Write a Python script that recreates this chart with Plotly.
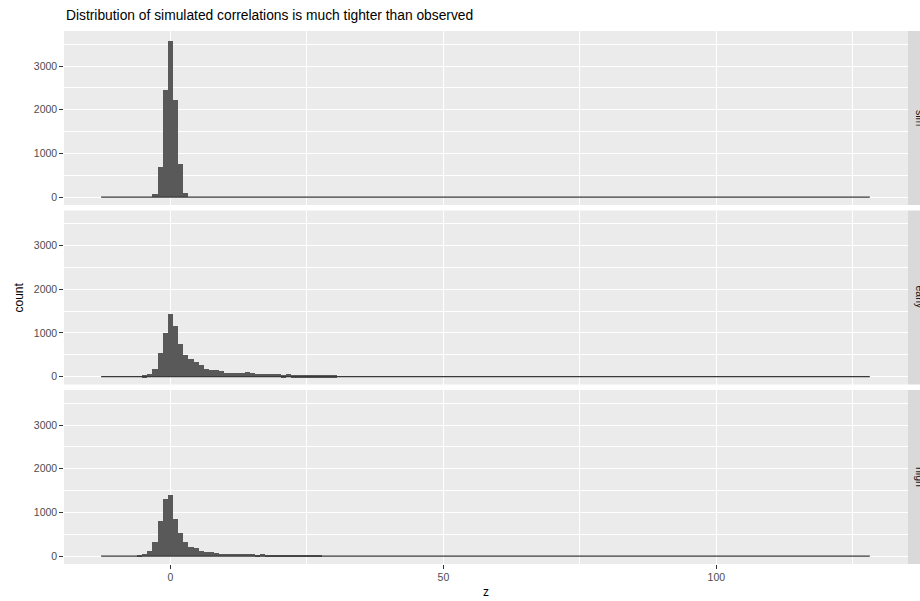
import plotly.graph_objects as go

# ---- data ----
panels = ["sim", "early", "high"]
bin_width = 0.94
bin_index = list(range(-6, 33))          # histogram bin k, centre = k * bin_width
z_min, z_max = -12.7, 128.1              # overall range of z (empty bins drawn as a flat line)

sim_counts = [0, 0, 0, 60, 686, 2448, 3570, 2220, 755, 92] + [0] * 29
early_counts = [0, 38, 69, 175, 542, 1000, 1440, 1170, 763, 496, 405, 336, 267, 176,
                153, 153, 130, 84, 84, 84, 84, 107, 84, 61, 61, 61, 61, 61, 38, 61,
                38, 38, 38, 38, 38, 38, 38, 38, 38]
high_counts = [30, 53, 122, 328, 809, 1313, 1405, 855, 534, 328, 214, 191, 122, 99, 99,
               76, 53, 53, 53, 53, 53, 53, 53, 30, 53, 30, 30, 8, 30, 30, 30, 30, 8, 8,
               8, 30, 0, 0, 0]
all_counts = [sim_counts, early_counts, high_counts]

x_ticks = [0, 50, 100]
y_ticks = [0, 1000, 2000, 3000]

# ---- layout geometry ----
W, H = 920, 601
L, R, T, B = 64, 12, 31, 37
ph = (H - T - B)
gap = 5.5
panel_h = (ph - 2 * gap) / 3
domains = []
for i in range(3):
    top = ph - i * (panel_h + gap)
    bot = top - panel_h
    domains.append([bot / ph, top / ph])

centres = [k * bin_width for k in bin_index]
BAR = "#595959"
fig = go.Figure()
for i, counts in enumerate(all_counts):
    xa = "x" if i == 0 else f"x{i+1}"
    ya = "y" if i == 0 else f"y{i+1}"
    fig.add_trace(go.Scatter(x=[z_min, z_max], y=[0, 0], mode="lines",
                             line=dict(color="#3a3a3a", width=1.1), xaxis=xa, yaxis=ya,
                             showlegend=False, hoverinfo="skip"))
    fig.add_trace(go.Bar(x=centres, y=counts, width=bin_width, marker=dict(color=BAR, line=dict(width=0)),
                         xaxis=xa, yaxis=ya, showlegend=False))

axis_common = dict(showline=False, zeroline=False, gridcolor="white", gridwidth=1.1,
                   tickcolor="#333333", tickwidth=1.07, ticklen=3.7, automargin=False,
                   tickfont=dict(family="Liberation Sans, Arial", size=10.5, color="#4D4D4D"))
xr = [-19.5, 135.1]
yr = [-181, 3801]
layout = dict(width=W, height=H, margin=dict(l=L, r=R, t=T, b=B),
              paper_bgcolor="white", plot_bgcolor="#EBEBEB", bargap=0, barmode="overlay",
              font=dict(family="Liberation Sans, Arial", color="#1A1A1A"))
for i in range(3):
    xs = "xaxis" if i == 0 else f"xaxis{i+1}"
    ys = "yaxis" if i == 0 else f"yaxis{i+1}"
    ya = "y" if i == 0 else f"y{i+1}"
    xa = "x" if i == 0 else f"x{i+1}"
    last = (i == 2)
    layout[xs] = dict(axis_common, domain=[0, 1], anchor=ya, range=xr, tickvals=x_ticks,
                      ticks="outside" if last else "", showticklabels=last,
                      minor=dict(showgrid=True, gridcolor="white", gridwidth=0.55,
                                 tickvals=[25, 75, 125], ticks=""))
    layout[ys] = dict(axis_common, domain=domains[i], anchor=xa, range=yr, tickvals=y_ticks,
                      ticks="outside",
                      minor=dict(showgrid=True, gridcolor="white", gridwidth=0.55,
                                 tickvals=[500, 1500, 2500, 3500], ticks=""))
fig.update_layout(**layout)

shapes = []
annotations = []
for i, name in enumerate(panels):
    shapes.append(dict(type="rect", xref="paper", yref="paper", x0=1, x1=1.04,
                       y0=domains[i][0], y1=domains[i][1], fillcolor="#D9D9D9",
                       line=dict(width=0), layer="below"))
    annotations.append(dict(text=name, xref="paper", yref="paper", x=1, xshift=12,
                            y=(domains[i][0] + domains[i][1]) / 2, textangle=90,
                            showarrow=False, xanchor="center", yanchor="middle",
                            font=dict(size=10.5, color="#1A1A1A")))
annotations.append(dict(text="Distribution of simulated correlations is much tighter than observed",
                        xref="paper", yref="paper", x=0, y=1, xanchor="left", yanchor="bottom",
                        yshift=6, showarrow=False, font=dict(size=13.8, color="black")))
annotations.append(dict(text="count", xref="paper", yref="paper", x=0, xshift=-46, y=0.5,
                        textangle=-90, showarrow=False, xanchor="center", yanchor="middle",
                        font=dict(size=12, color="black")))
annotations.append(dict(text="z", xref="paper", yref="paper", x=0.5, y=0, yshift=-28,
                        showarrow=False, xanchor="center", yanchor="middle",
                        font=dict(size=12, color="black")))
fig.update_layout(shapes=shapes, annotations=annotations)

fig.write_html("out.html", config={"displayModeBar": False},
               post_script="document.body.style.margin='0';document.body.style.overflow='hidden';")
